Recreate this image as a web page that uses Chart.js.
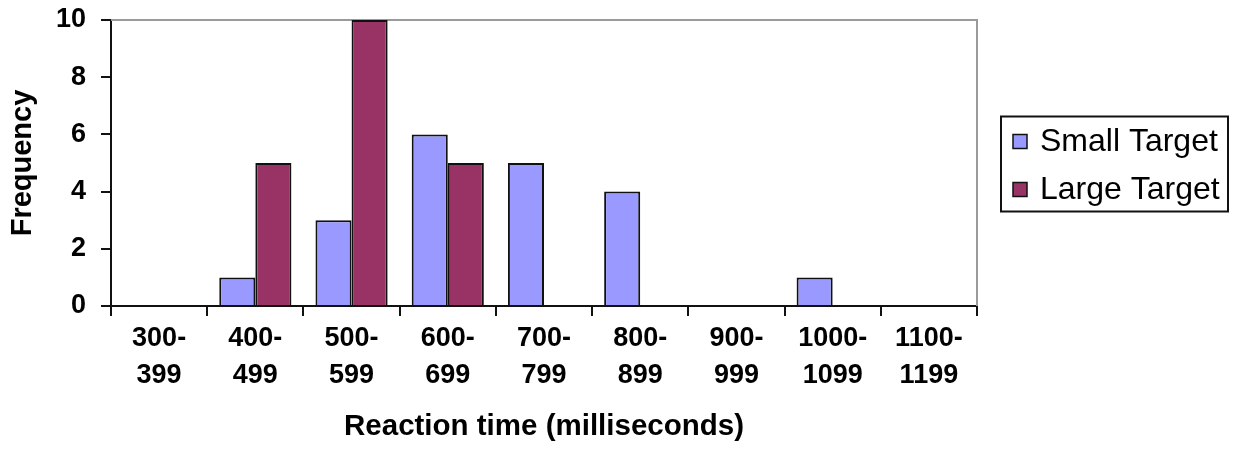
<!DOCTYPE html>
<html lang="en">
<head>
    <meta charset="UTF-8">
    <title>Reaction Time Histogram</title>
    <script src="https://cdn.jsdelivr.net/npm/chart.js"></script>
    <style>
        html, body { margin: 0; padding: 0; background: #fff; }
        .chart-wrap { width: 1235px; height: 449px; }
    </style>
</head>
<body>
    <div class="chart-wrap">
        <canvas id="reactionChart"></canvas>
    </div>

    <script>
        // Reaction time bins (two-line labels) and frequencies per target size
        const bins = [
            ['300-', '399'], ['400-', '499'], ['500-', '599'], ['600-', '699'], ['700-', '799'],
            ['800-', '899'], ['900-', '999'], ['1000-', '1099'], ['1100-', '1199']
        ];
        const smallTarget = [0, 1, 3, 6, 5, 4, 0, 1, 0];
        const largeTarget = [0, 5, 10, 5, 0, 0, 0, 0, 0];
        const freqTicks = [0, 2, 4, 6, 8, 10];

        const FONT = "'Liberation Sans', Arial, sans-serif";

        // Gray frame on the top and right of the plot area
        const plotFrame = {
            id: 'plotFrame',
            beforeDatasetsDraw(chart) {
                const { ctx, chartArea: a } = chart;
                ctx.save();
                ctx.strokeStyle = '#9a9a9a';
                ctx.lineWidth = 2;
                ctx.beginPath();
                ctx.moveTo(a.left, a.top);
                ctx.lineTo(a.right, a.top);
                ctx.lineTo(a.right, a.bottom);
                ctx.stroke();
                ctx.restore();
            }
        };

        // Boxed legend to the right of the plot
        const boxLegend = {
            id: 'boxLegend',
            afterDraw(chart) {
                const { ctx, chartArea: a } = chart;
                const left = a.right + 24;
                const width = 227;
                const height = 95;
                const top = (a.top + a.bottom) / 2 - height / 2 + 1;
                ctx.save();
                ctx.strokeStyle = '#111';
                ctx.lineWidth = 2;
                ctx.strokeRect(left, top, width, height);
                ctx.font = '32px ' + FONT;
                ctx.textBaseline = 'middle';
                chart.data.datasets.forEach((ds, i) => {
                    const cy = top + 25 + i * 48;
                    ctx.fillStyle = ds.backgroundColor;
                    ctx.fillRect(left + 12, cy - 7, 14, 14);
                    ctx.lineWidth = 1.5;
                    ctx.strokeStyle = '#111';
                    ctx.strokeRect(left + 12, cy - 7, 14, 14);
                    ctx.fillStyle = '#000';
                    ctx.fillText(ds.label, left + 39, cy + 1);
                });
                ctx.restore();
            }
        };

        const ctx = document.getElementById('reactionChart').getContext('2d');
        new Chart(ctx, {
            type: 'bar',
            data: {
                labels: bins,
                datasets: [
                    {
                        label: 'Small Target',
                        data: smallTarget,
                        backgroundColor: '#9999ff',
                        borderColor: '#111',
                        borderWidth: 2
                    },
                    {
                        label: 'Large Target',
                        data: largeTarget,
                        backgroundColor: '#993366',
                        borderColor: '#111',
                        borderWidth: 2
                    }
                ]
            },
            options: {
                responsive: true,
                maintainAspectRatio: false,
                animation: false,
                datasets: {
                    bar: { categoryPercentage: 0.75, barPercentage: 1.0 }
                },
                layout: { padding: { left: 0, top: 20, right: 258, bottom: 0 } },
                plugins: {
                    legend: { display: false },
                    tooltip: { enabled: false }
                },
                scales: {
                    x: {
                        grid: {
                            offset: true,
                            drawOnChartArea: false,
                            drawTicks: true,
                            tickLength: 10,
                            color: '#111',
                            lineWidth: 2
                        },
                        border: { color: '#111', width: 2 },
                        ticks: {
                            color: '#000',
                            padding: 4,
                            maxRotation: 0,
                            font: { family: FONT, size: 27, weight: 'bold', lineHeight: 1.38 }
                        },
                        title: {
                            display: true,
                            text: 'Reaction time (milliseconds)',
                            color: '#000',
                            padding: { top: 0, bottom: 4 },
                            font: { family: FONT, size: 29.5, weight: 'bold', lineHeight: 1.2 }
                        },
                        afterFit(scale) {
                            scale.height = 143;
                            scale.paddingLeft = 0;
                            scale.paddingRight = 0;
                        }
                    },
                    y: {
                        min: 0,
                        max: 10,
                        afterBuildTicks(scale) {
                            scale.ticks = freqTicks.map(v => ({ value: v }));
                        },
                        grid: {
                            drawOnChartArea: false,
                            drawTicks: true,
                            tickLength: 10,
                            color: '#111',
                            lineWidth: 2
                        },
                        border: { color: '#111', width: 2 },
                        ticks: {
                            color: '#000',
                            padding: 15,
                            font: { family: FONT, size: 27, weight: 'bold' }
                        },
                        title: {
                            display: true,
                            text: 'Frequency',
                            color: '#000',
                            padding: { top: 6, bottom: 0 },
                            font: { family: FONT, size: 29, weight: 'bold', lineHeight: 1.2 }
                        },
                        afterFit(scale) {
                            scale.width = 111;
                            scale.paddingTop = 0;
                            scale.paddingBottom = 0;
                        }
                    }
                }
            },
            plugins: [plotFrame, boxLegend]
        });
    </script>
</body>
</html>
